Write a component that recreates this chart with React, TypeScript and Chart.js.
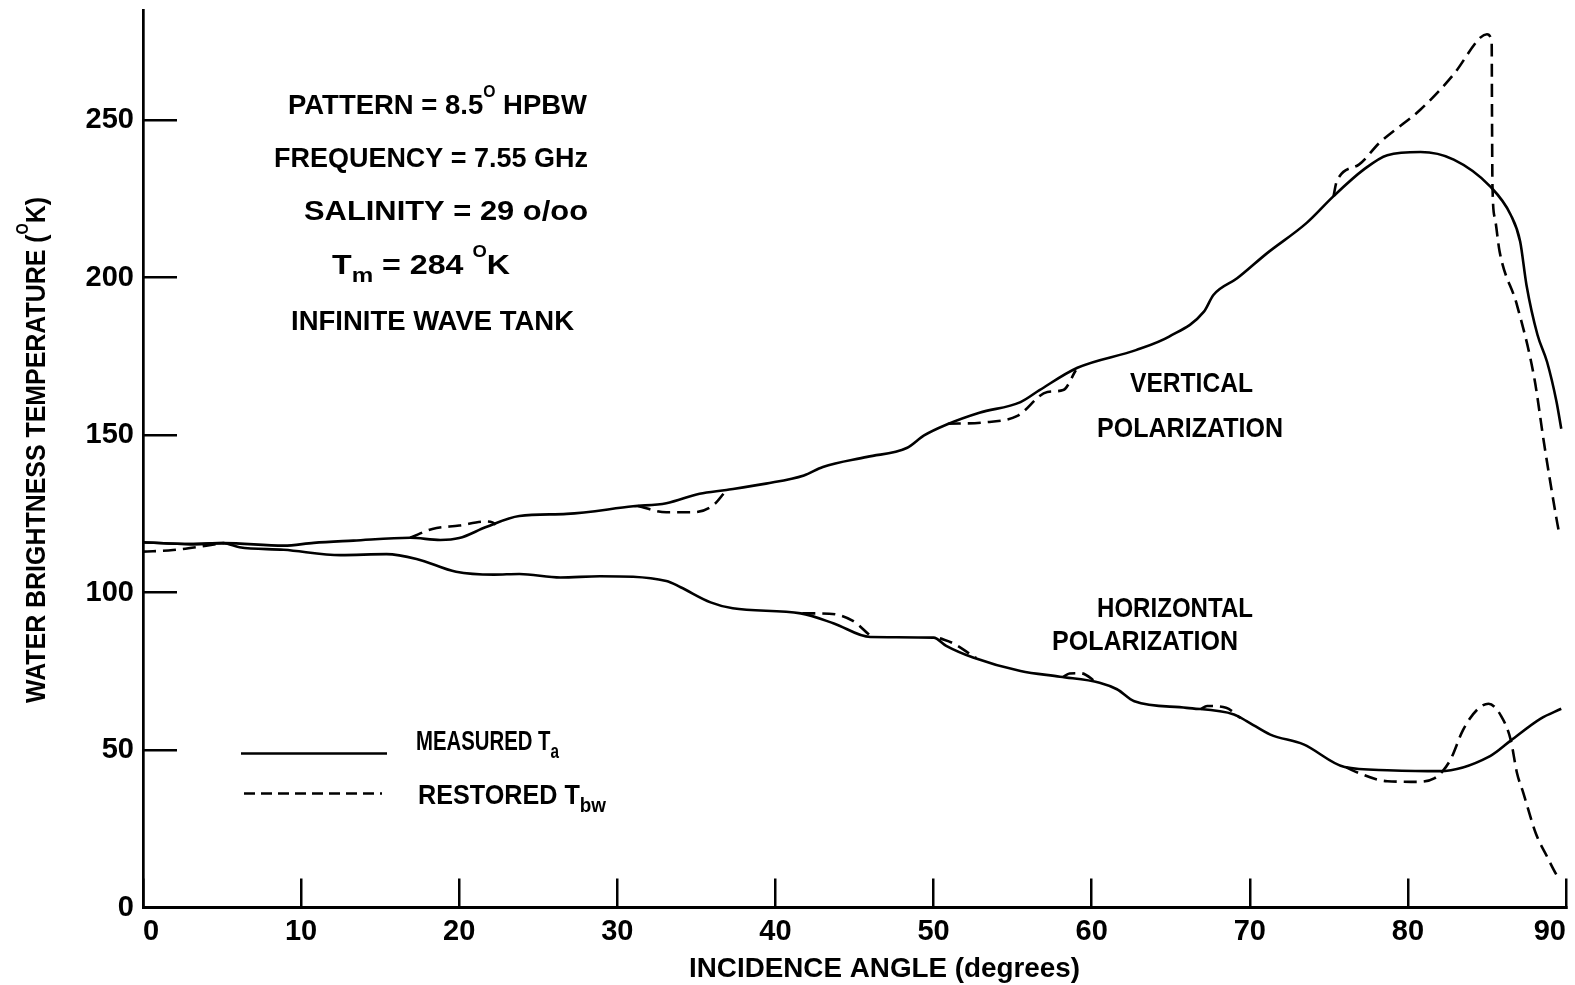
import React, { useEffect, useRef } from "react";
import { Chart, registerables } from "chart.js";

Chart.register(...registerables);

// ---------------- data ----------------
const vMeasuredAngle = [0, 3, 5.1, 8.9, 10.8, 13.3, 16.9, 18.8, 20, 21.7, 23.8, 26.8, 31, 33.1, 35.2, 36.9, 39.4, 41.8, 43, 45.8, 48.3, 49.4, 50.8, 52.9, 55.5, 56.7, 59.1, 62.8, 64.9, 67.1, 67.7, 69.2, 71.1, 73.6, 75.3, 77.2, 78.7, 80.8, 82.9, 85.2, 86.5, 87.1, 87.5, 88.2, 88.8, 89.4, 89.7];
const vMeasuredTemp = [116, 115.4, 115.7, 114.9, 115.8, 116.5, 117.4, 116.7, 117.3, 120.8, 124.3, 125, 127.4, 128.4, 131.4, 132.6, 134.6, 137.2, 139.9, 143.1, 145.9, 149.9, 153.3, 157.1, 160.5, 164.3, 171.4, 177, 181.3, 189.2, 194.5, 199.8, 207.8, 217.4, 225.9, 234.3, 238.9, 239.9, 237.5, 229, 220, 211.5, 197.7, 181.8, 173.3, 160.6, 152];

// restored curve only where it departs from the measured one (null = gap)
const vRestoredAngle = [0, 1.9, 4, 5.1, 10, 16.9, 18.3, 20, 21.7, 22.1, 22.3, 27, 31.3, 33.1, 34.8, 36.1, 36.9, 45, 50.9, 53.1, 55.3, 57.2, 58.2, 59, 70, 75.3, 75.5, 76.9, 78.2, 80.8, 82.9, 84.6, 85, 85.3, 85.32, 85.35, 85.5, 85.8, 86.9, 88, 88.6, 89.4, 89.6];
const vRestoredTemp = [113, 113.5, 114.9, 115.7, null, 117.4, 120.2, 121.3, 122.6, 122.3, 121.6, null, 127.5, 125.5, 125.5, 127.9, 132.6, null, 153.6, 154, 156.1, 163.7, 164.3, 170.6, null, 225.9, 230.6, 235.9, 242.8, 253.4, 264.6, 276.3, 277.3, 275, 252, 229, 219, 208.3, 191.3, 168, 147.8, 123.4, 118];

const hMeasuredAngle = [0, 3, 5.1, 6.1, 8.9, 12.5, 15.4, 17.3, 19.8, 22.2, 23.8, 26.4, 28.9, 33.1, 34, 35.9, 37.3, 41.6, 43.7, 46, 50, 50.8, 52.5, 55.5, 58, 60.5, 61.6, 62.7, 66, 69, 69.8, 71.3, 73.4, 76, 78.7, 82, 85.2, 86.5, 88.4, 89.7];
const hMeasuredTemp = [116, 115.4, 115.7, 114.4, 113.6, 111.9, 112.2, 110.7, 106.6, 105.7, 105.9, 104.8, 105.2, 103.7, 101.7, 96.9, 95, 93.4, 90.2, 85.9, 85.7, 83.1, 79.4, 75.1, 73.3, 71.4, 69.3, 65.5, 63.4, 61.3, 59.2, 54.9, 51.8, 44.6, 43.6, 43.3, 48.1, 53, 60, 63.1];

const hRestoredAngle = [41.7, 43.4, 44.9, 46, 48, 50.4, 51.2, 52.4, 52.7, 55, 58.2, 58.6, 59.3, 60, 60.2, 63, 66.9, 67.3, 68.5, 69.4, 72, 76.1, 76.6, 78.7, 80.6, 81.7, 82.2, 82.7, 83.5, 84.4, 85.1, 85.9, 86.5, 86.9, 87.3, 88.1, 88.8, 89.4, 89.6];
const hRestoredTemp = [93.4, 93.3, 91, 86.3, null, 85.5, 84, 80.2, 79.2, null, 73.2, 74.3, 74.4, 72.6, 71.6, null, 63, 64, 63.4, 60.2, null, 44.5, 43.3, 40.1, 39.9, 41.1, 43.3, 47, 56.5, 62.9, 64.7, 60.8, 53.3, 42.7, 36.4, 23.4, 16.2, 10.4, 9];

const xTickValues = [0, 10, 20, 30, 40, 50, 60, 70, 80, 90];
const yTickValues = [0, 50, 100, 150, 200, 250];

// ---------------- text ----------------
const xTitle = "INCIDENCE ANGLE (degrees)";
const yTitleParts = ["WATER BRIGHTNESS TEMPERATURE (", "O", "K)"];
const infoPattern = ["PATTERN = 8.5", "O", " HPBW"];
const infoFrequency = "FREQUENCY = 7.55 GHz";
const infoSalinity = "SALINITY = 29 o/oo";
const infoTm = ["T", "m", " = 284 ", "O", "K"];
const infoTank = "INFINITE WAVE TANK";
const labelVertical = ["VERTICAL", "POLARIZATION"];
const labelHorizontal = ["HORIZONTAL", "POLARIZATION"];
const legendMeasured = ["MEASURED T", "a"];
const legendRestored = ["RESTORED T", "bw"];

// ---------------- styling ----------------
const FONT = '"Liberation Sans", Arial, sans-serif';
const MAIN = 28;
const SUP = 16;
const SUB = 21;

type Seg = { t: string; kind?: "sup" | "sub" };
type TextItem = { segs: Seg[]; x: number; y: number; w: number; rotate?: boolean };

const plain = (t: string): Seg[] => [{ t }];

const textItems: TextItem[] = [
  { segs: [{ t: infoPattern[0] }, { t: infoPattern[1], kind: "sup" }, { t: infoPattern[2] }], x: 288, y: 114, w: 299 },
  { segs: plain(infoFrequency), x: 274, y: 167, w: 314 },
  { segs: plain(infoSalinity), x: 304, y: 219.5, w: 284 },
  { segs: [{ t: infoTm[0] }, { t: infoTm[1], kind: "sub" }, { t: infoTm[2] }, { t: infoTm[3], kind: "sup" }, { t: infoTm[4] }], x: 332, y: 274, w: 178 },
  { segs: plain(infoTank), x: 291, y: 329.5, w: 283 },
  { segs: plain(labelVertical[0]), x: 1130, y: 392, w: 123 },
  { segs: plain(labelVertical[1]), x: 1097, y: 437, w: 186 },
  { segs: plain(labelHorizontal[0]), x: 1097, y: 617, w: 156 },
  { segs: plain(labelHorizontal[1]), x: 1052, y: 649.5, w: 186 },
  { segs: [{ t: legendMeasured[0] }, { t: legendMeasured[1], kind: "sub" }], x: 416, y: 749.5, w: 143 },
  { segs: [{ t: legendRestored[0] }, { t: legendRestored[1], kind: "sub" }], x: 418, y: 803.5, w: 188 },
  { segs: plain(xTitle), x: 689, y: 977, w: 391 },
  { segs: [{ t: yTitleParts[0] }, { t: yTitleParts[1], kind: "sup" }, { t: yTitleParts[2] }], x: 45, y: 703, w: 506, rotate: true },
];

const segFont = (s: Seg) => {
  const size = s.kind === "sup" ? SUP : s.kind === "sub" ? SUB : MAIN;
  return `bold ${size}px ${FONT}`;
};
const segDy = (s: Seg) => (s.kind === "sup" ? -17 : s.kind === "sub" ? 8 : 0);

const drawTextItem = (ctx: CanvasRenderingContext2D, item: TextItem) => {
  let natural = 0;
  const widths = item.segs.map((s) => {
    ctx.font = segFont(s);
    const w = ctx.measureText(s.t).width;
    natural += w;
    return w;
  });
  const sx = item.w / natural;
  ctx.save();
  ctx.translate(item.x, item.y);
  if (item.rotate) ctx.rotate(-Math.PI / 2);
  ctx.scale(sx, 1);
  ctx.fillStyle = "#000";
  ctx.textBaseline = "alphabetic";
  ctx.textAlign = "left";
  let cx = 0;
  item.segs.forEach((s, i) => {
    ctx.font = segFont(s);
    ctx.fillText(s.t, cx, segDy(s));
    cx += widths[i];
  });
  ctx.restore();
};

const pts = (xs: number[], ys: (number | null)[]) => xs.map((x, i) => ({ x, y: ys[i] }));

const decorPlugin = {
  id: "decor",
  beforeDraw(chart: any) {
    const ctx = chart.ctx as CanvasRenderingContext2D;
    ctx.save();
    ctx.fillStyle = "#fff";
    ctx.fillRect(0, 0, chart.width, chart.height);
    ctx.restore();
  },
  afterDraw(chart: any) {
    const ctx = chart.ctx as CanvasRenderingContext2D;
    ctx.save();
    ctx.strokeStyle = "#000";
    ctx.lineWidth = 2.6;
    ctx.beginPath();
    ctx.moveTo(241, 753.5);
    ctx.lineTo(387, 753.5);
    ctx.stroke();
    ctx.setLineDash([11, 6]);
    ctx.beginPath();
    ctx.moveTo(244, 793.5);
    ctx.lineTo(382, 793.5);
    ctx.stroke();
    ctx.restore();
    textItems.forEach((it) => drawTextItem(ctx, it));
  },
};

const lineStyle = {
  borderColor: "#000",
  borderWidth: 2.6,
  pointRadius: 0,
  fill: false,
  cubicInterpolationMode: "monotone" as const,
  spanGaps: false,
};

export default function App() {
  const canvasRef = useRef<HTMLCanvasElement>(null);

  useEffect(() => {
    const canvas = canvasRef.current;
    if (!canvas) return;
    const chart = new Chart(canvas, {
      type: "line",
      data: {
        datasets: [
          { label: "Vertical measured Ta", data: pts(vMeasuredAngle, vMeasuredTemp), ...lineStyle },
          { label: "Vertical restored Tbw", data: pts(vRestoredAngle, vRestoredTemp), ...lineStyle, borderDash: [13, 7] },
          { label: "Horizontal measured Ta", data: pts(hMeasuredAngle, hMeasuredTemp), ...lineStyle },
          { label: "Horizontal restored Tbw", data: pts(hRestoredAngle, hRestoredTemp), ...lineStyle, borderDash: [13, 7] },
        ] as any,
      },
      options: {
        responsive: false,
        maintainAspectRatio: false,
        animation: false,
        events: [],
        layout: { padding: { left: 0, top: 10, right: 9, bottom: 0 } },
        plugins: {
          legend: { display: false },
          tooltip: { enabled: false },
          title: { display: false },
        },
        scales: {
          x: {
            type: "linear",
            position: "bottom",
            min: 0,
            max: 90,
            afterBuildTicks: (scale: any) => {
              scale.ticks = xTickValues.map((v) => ({ value: v }));
            },
            afterFit: (scale: any) => {
              scale.height = 985 - 907.5;
              scale.paddingLeft = 0;
              scale.paddingRight = 0;
              scale.paddingTop = 0;
              scale.paddingBottom = 0;
            },
            ticks: {
              align: "inner",
              padding: 36,
              color: "#000",
              maxRotation: 0,
              minRotation: 0,
              autoSkip: false,
              font: { family: FONT, size: 29, weight: "bold" },
            },
            grid: {
              drawOnChartArea: false,
              drawTicks: true,
              tickLength: -29,
              color: "#000",
              tickColor: "#000",
              lineWidth: 2.5,
              tickWidth: 2.5,
            },
            border: { display: true, color: "#000", width: 3 },
          },
          y: {
            type: "linear",
            min: 0,
            max: 285,
            afterBuildTicks: (scale: any) => {
              scale.ticks = yTickValues.map((v) => ({ value: v }));
            },
            afterFit: (scale: any) => {
              scale.width = 143;
              scale.paddingLeft = 0;
              scale.paddingRight = 0;
              scale.paddingTop = 0;
              scale.paddingBottom = 0;
            },
            ticks: {
              padding: 43,
              color: "#000",
              autoSkip: false,
              font: { family: FONT, size: 29, weight: "bold" },
            },
            grid: {
              drawOnChartArea: false,
              drawTicks: true,
              tickLength: -34,
              color: "#000",
              tickColor: "#000",
              lineWidth: 2.5,
              tickWidth: 2.5,
            },
            border: { display: true, color: "#000", width: 2.7 },
          },
        },
      } as any,
      plugins: [decorPlugin],
    });
    return () => chart.destroy();
  }, []);

  return (
    <div style={{ position: "fixed", left: 0, top: 0, width: 1575, height: 985, background: "#fff" }}>
      <canvas ref={canvasRef} width={1575} height={985} style={{ width: 1575, height: 985, display: "block" }} />
    </div>
  );
}
